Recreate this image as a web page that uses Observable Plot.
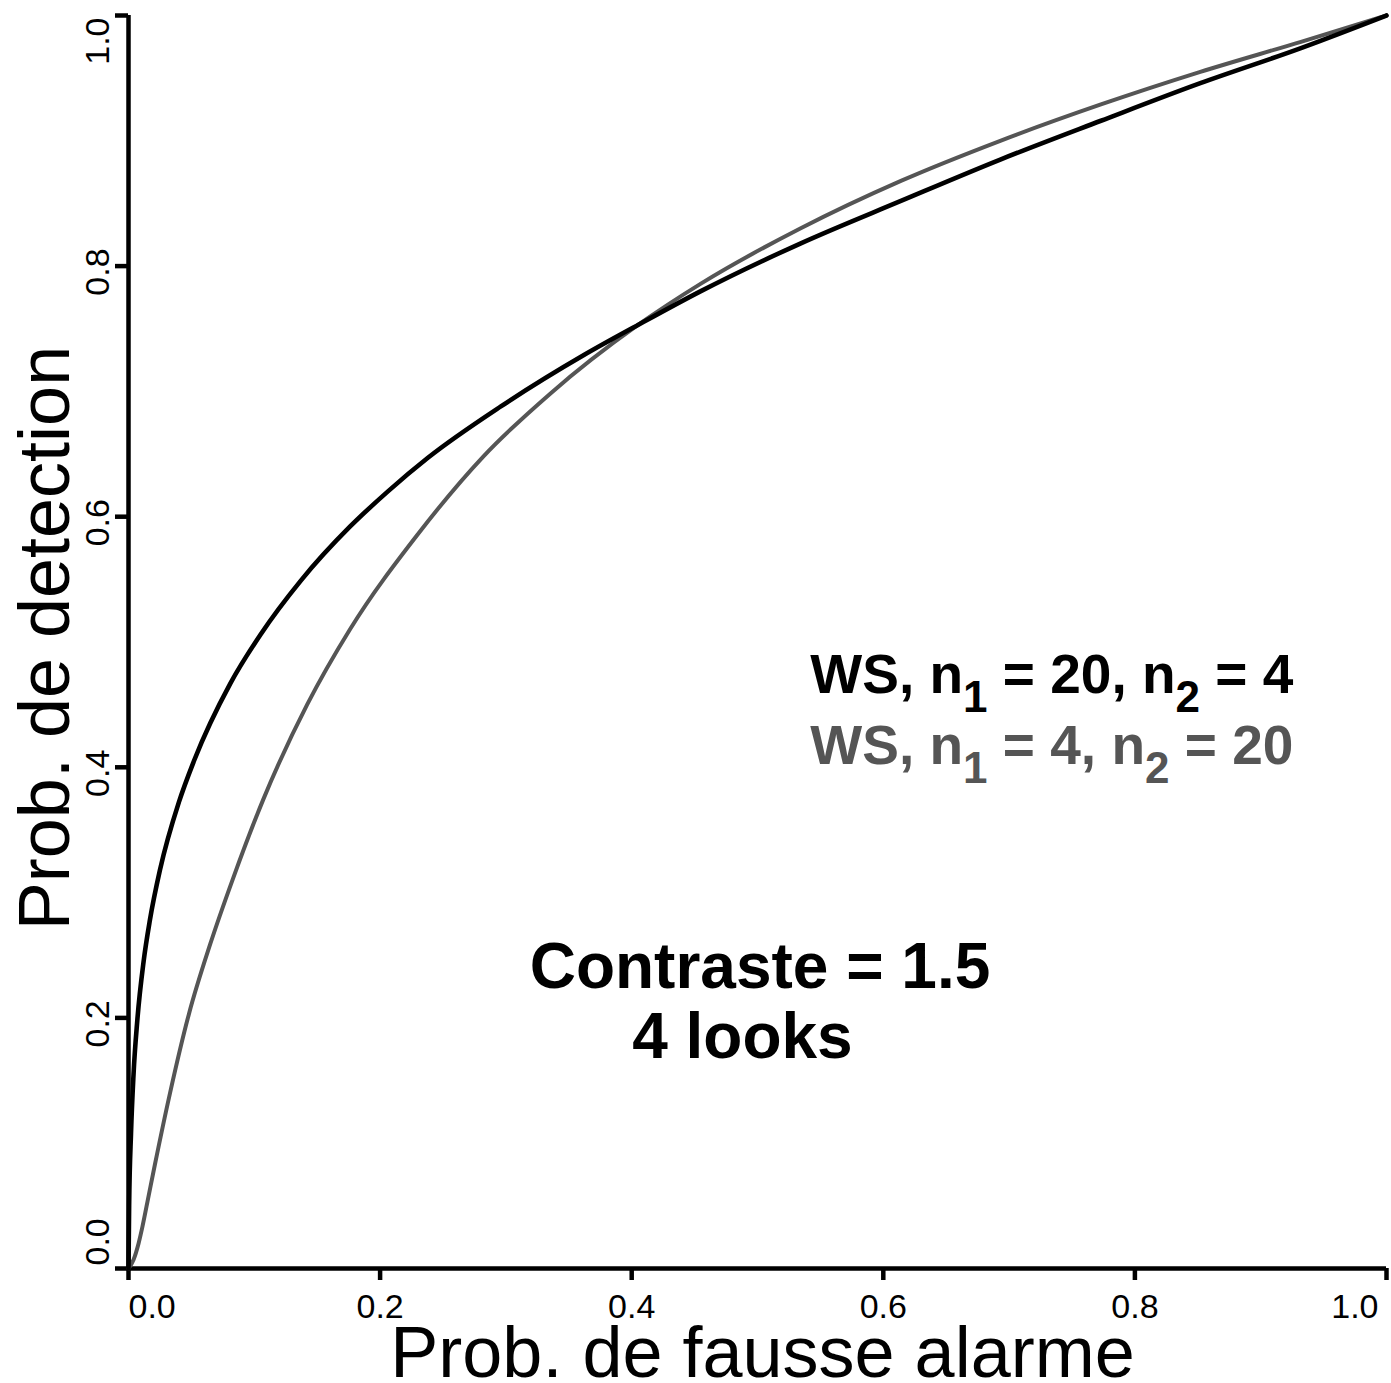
<!DOCTYPE html>
<html>
<head>
<meta charset="utf-8">
<script src="https://cdn.jsdelivr.net/npm/d3@7"></script>
<script src="https://cdn.jsdelivr.net/npm/@observablehq/plot@0.6"></script>
<style>
  html, body { margin: 0; padding: 0; background: #fff; }
  svg { display: block; }
</style>
</head>
<body>
<div id="chart"></div>
<script>
// Curve: WS, n1 = 20, n2 = 4 (black)
const faBlack = [0, 0.0005, 0.002, 0.004, 0.007, 0.012, 0.017, 0.025, 0.040, 0.052, 0.081, 0.105, 0.137, 0.176, 0.206, 0.238, 0.296, 0.362, 0.405, 0.455, 0.534, 0.614, 0.693, 0.773, 0.852, 0.932, 1.0];
const pdBlack = [0, 0.05, 0.108, 0.155, 0.198, 0.245, 0.278, 0.318, 0.372, 0.405, 0.467, 0.506, 0.549, 0.592, 0.620, 0.647, 0.688, 0.729, 0.753, 0.780, 0.818, 0.852, 0.885, 0.916, 0.946, 0.974, 1.0];
// Curve: WS, n1 = 4, n2 = 20 (grey)
const faGrey = [0, 0.004, 0.008, 0.011, 0.016, 0.021, 0.033, 0.048, 0.065, 0.083, 0.107, 0.142, 0.176, 0.230, 0.282, 0.335, 0.405, 0.455, 0.534, 0.614, 0.693, 0.773, 0.852, 0.932, 1.0];
const pdGrey = [0, 0.007, 0.020, 0.033, 0.058, 0.083, 0.140, 0.203, 0.259, 0.311, 0.374, 0.450, 0.510, 0.586, 0.648, 0.698, 0.753, 0.786, 0.830, 0.868, 0.900, 0.929, 0.955, 0.979, 1.0];

const xTicks = [0, 0.2, 0.4, 0.6, 0.8, 1.0];
const yTicks = [0, 0.2, 0.4, 0.6, 0.8, 1.0];
const xTitle = "Prob. de fausse alarme";
const yTitle = "Prob. de detection";
const legendLabels = ["WS, n_1 = 20, n_2 = 4", "WS, n_1 = 4, n_2 = 20"];
const noteLines = ["Contraste = 1.5", "4 looks"];

const black = "#000000";
const grey = "#555555";
const fmt = d3.format(".1f");

const blackData = faBlack.map((x, i) => ({x, y: pdBlack[i]}));
const greyData = faGrey.map((x, i) => ({x, y: pdGrey[i]}));

const font = "'Liberation Sans', Arial, Helvetica, sans-serif";

const chart = Plot.plot({
  width: 1391,
  height: 1383,
  marginLeft: 128,
  marginRight: 5,
  marginTop: 15,
  marginBottom: 115,
  style: {fontFamily: font, background: "#fff", color: "#000"},
  x: {domain: [0, 1], axis: null},
  y: {domain: [0, 1], axis: null},
  marks: [
    // tick marks
    Plot.axisX({ticks: xTicks, tickSize: 12, strokeWidth: 4.5, tickFormat: () => "", label: null}),
    Plot.axisY({ticks: yTicks, tickSize: 13, strokeWidth: 4.5, tickFormat: () => "", label: null}),
    // axis lines
    Plot.ruleY([0], {x1: 0, x2: 1, stroke: black, strokeWidth: 4.5}),
    Plot.ruleX([0], {y1: 0, y2: 1, stroke: black, strokeWidth: 4.5}),
    // x tick labels
    Plot.text(xTicks.slice(1, -1), {x: d => d, frameAnchor: "bottom", dy: 49, lineAnchor: "bottom", text: fmt, fontSize: 34, textAnchor: "middle"}),
    Plot.text(xTicks.slice(0, 1), {x: d => d, frameAnchor: "bottom", dy: 49, lineAnchor: "bottom", text: fmt, fontSize: 34, textAnchor: "start"}),
    Plot.text(xTicks.slice(-1), {x: d => d, frameAnchor: "bottom", dy: 49, lineAnchor: "bottom", text: fmt, fontSize: 34, textAnchor: "end", dx: -8}),
    // y tick labels (rotated)
    Plot.text(yTicks.slice(1, -1), {y: d => d, frameAnchor: "left", dx: -20, dy: 6, rotate: -90, lineAnchor: "bottom", text: fmt, fontSize: 34, textAnchor: "middle"}),
    Plot.text(yTicks.slice(0, 1), {y: d => d, frameAnchor: "left", dx: -20, dy: -3, rotate: -90, lineAnchor: "bottom", text: fmt, fontSize: 34, textAnchor: "start"}),
    Plot.text(yTicks.slice(-1), {y: d => d, frameAnchor: "left", dx: -20, dy: 2, rotate: -90, lineAnchor: "bottom", text: fmt, fontSize: 34, textAnchor: "end"}),
    // axis titles
    Plot.text([xTitle], {frameAnchor: "bottom", dx: 5, dy: 108, lineAnchor: "bottom", textAnchor: "middle", fontSize: 72}),
    Plot.text([yTitle], {frameAnchor: "left", dx: -60, dy: -4, rotate: -90, lineAnchor: "bottom", textAnchor: "middle", fontSize: 72}),
    // curves
    Plot.line(greyData, {x: "x", y: "y", stroke: grey, strokeWidth: 4, curve: "monotone-x", strokeLinecap: "round"}),
    Plot.line(blackData, {x: "x", y: "y", stroke: black, strokeWidth: 4.6, curve: "monotone-x", strokeLinecap: "round"}),
    // legend-like annotations
    Plot.text([legendLabels[0]], {x: 0.542, y: 0.459, textAnchor: "start", lineAnchor: "bottom", fontSize: 55, fontWeight: "bold", fill: black}),
    Plot.text([legendLabels[1]], {x: 0.542, y: 0.403, textAnchor: "start", lineAnchor: "bottom", fontSize: 55, fontWeight: "bold", fill: grey}),
    Plot.text([noteLines[0]], {x: 0.502, y: 0.224, textAnchor: "middle", lineAnchor: "bottom", fontSize: 64, fontWeight: "bold", fill: black}),
    Plot.text([noteLines[1]], {x: 0.488, y: 0.168, textAnchor: "middle", lineAnchor: "bottom", fontSize: 64, fontWeight: "bold", fill: black})
  ]
});

// Render subscripts "_d" as real tspans
d3.select(chart).selectAll("text").each(function() {
  const t = this.textContent;
  if (!/_\d/.test(t)) return;
  const parts = t.split(/_(\d)/);
  const sel = d3.select(this);
  sel.text(null);
  parts.forEach((p, i) => {
    if (p === "") return;
    if (i % 2 === 1) {
      sel.append("tspan").attr("font-size", "0.8em").attr("dy", 19).text(p);
    } else {
      const ts = sel.append("tspan").text(p);
      if (i > 0) ts.attr("dy", -19);
    }
  });
});

document.getElementById("chart").appendChild(chart);
</script>
</body>
</html>
